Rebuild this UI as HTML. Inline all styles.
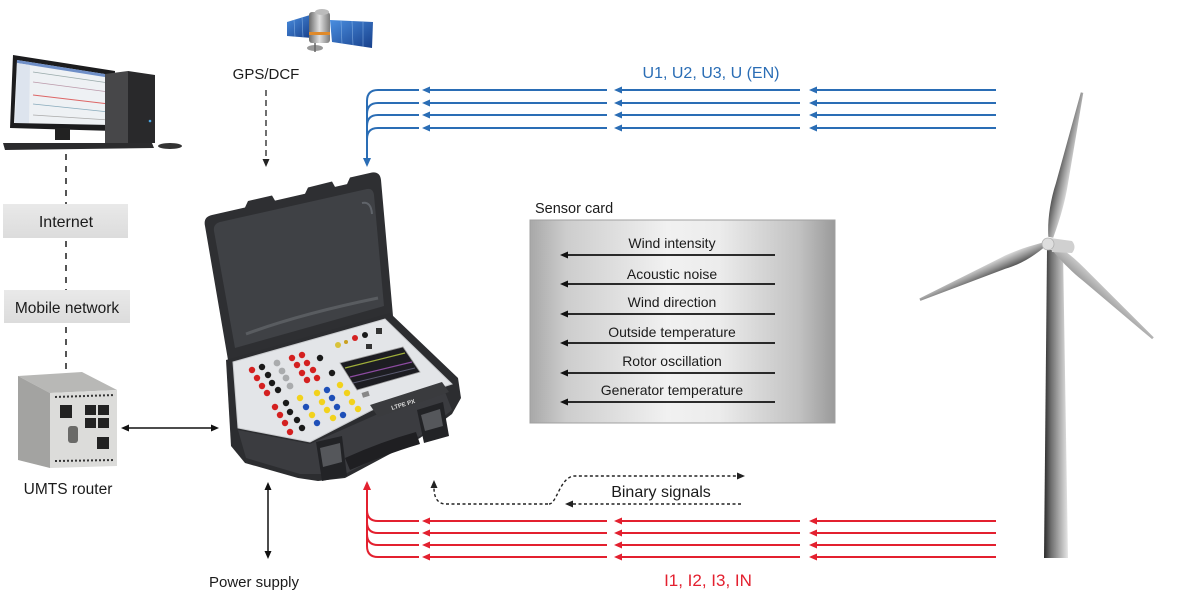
<!DOCTYPE html>
<html><head><meta charset="utf-8">
<style>
html,body{margin:0;padding:0;background:#fff;}
svg{display:block;}
text{font-family:"Liberation Sans",Arial,sans-serif;fill:#1b1b1b;}
</style></head><body>
<svg width="1200" height="594" viewBox="0 0 1200 594" xmlns="http://www.w3.org/2000/svg">
<defs>
 <linearGradient id="card" x1="0" y1="0" x2="1" y2="0">
  <stop offset="0" stop-color="#a8a8a8"/>
  <stop offset="0.12" stop-color="#cdcdcd"/>
  <stop offset="0.45" stop-color="#f1f1f1"/>
  <stop offset="0.62" stop-color="#ececec"/>
  <stop offset="0.88" stop-color="#c2c2c2"/>
  <stop offset="1" stop-color="#9a9a9a"/>
 </linearGradient>
 <linearGradient id="tower" x1="0" y1="0" x2="1" y2="0">
  <stop offset="0" stop-color="#2a2a2a"/>
  <stop offset="0.3" stop-color="#707070"/>
  <stop offset="0.7" stop-color="#b4b4b4"/>
  <stop offset="1" stop-color="#e6e6e6"/>
 </linearGradient>
 <linearGradient id="blade" x1="0" y1="0" x2="1" y2="0">
  <stop offset="0" stop-color="#555"/>
  <stop offset="0.5" stop-color="#9a9a9a"/>
  <stop offset="1" stop-color="#d8d8d8"/>
 </linearGradient>
 <linearGradient id="bladeR" x1="0" y1="0" x2="1" y2="0">
  <stop offset="0" stop-color="#c8c8c8"/>
  <stop offset="1" stop-color="#a0a0a0"/>
 </linearGradient>
 <linearGradient id="solar" x1="0" y1="0" x2="1" y2="1">
  <stop offset="0" stop-color="#4a8ee0"/>
  <stop offset="1" stop-color="#173f8a"/>
 </linearGradient>
 <linearGradient id="sbody" x1="0" y1="0" x2="1" y2="0">
  <stop offset="0" stop-color="#6a6a6a"/>
  <stop offset="0.5" stop-color="#e0e0e0"/>
  <stop offset="1" stop-color="#7a7a7a"/>
 </linearGradient>
 <linearGradient id="gbox" x1="0" y1="0" x2="0" y2="1">
  <stop offset="0" stop-color="#e9e9e9"/>
  <stop offset="1" stop-color="#dcdcdc"/>
 </linearGradient>
</defs>

<!-- ===== Computer ===== -->
<polygon points="13,55 115,71 114,131 10,128" fill="#1c1c1e"/>
<polygon points="17,60 111,75 110,125 14,123" fill="#eef1f4"/>
<polygon points="17,60 111,75 111,78 17,63" fill="#6f8fc8"/>
<polygon points="17,63 30,65 29,123 15,123" fill="#dde4ee"/>
<line x1="33" y1="72" x2="109" y2="83" stroke="#9aa" stroke-width="0.8"/>
<line x1="33" y1="82" x2="109" y2="92" stroke="#b9a" stroke-width="0.8"/>
<line x1="33" y1="95" x2="109" y2="104" stroke="#d66" stroke-width="1"/>
<line x1="33" y1="104" x2="109" y2="112" stroke="#8ab" stroke-width="0.8"/>
<line x1="33" y1="115" x2="109" y2="120" stroke="#aaa" stroke-width="0.8"/>
<rect x="55" y="128" width="15" height="12" fill="#222"/>
<polygon points="105,74 128,71 128,143 105,143" fill="#474749"/>
<polygon points="128,71 155,75 155,143 128,143" fill="#29292b"/>
<circle cx="150" cy="121" r="1.3" fill="#4aa3e0"/>
<polygon points="3,143 152,143 154,148 5,150" fill="#2b2b2d"/>
<ellipse cx="170" cy="146" rx="12" ry="3" fill="#333"/>

<!-- dashed network line -->
<line x1="66" y1="154" x2="66" y2="204" stroke="#555" stroke-width="2" stroke-dasharray="6,6"/>
<rect x="3" y="204" width="125" height="34" fill="url(#gbox)"/>
<text x="66" y="227" font-size="16" text-anchor="middle">Internet</text>
<line x1="66" y1="241" x2="66" y2="290" stroke="#555" stroke-width="2" stroke-dasharray="6,6"/>
<rect x="4" y="290" width="126" height="33" fill="url(#gbox)"/>
<text x="67" y="313" font-size="15.5" text-anchor="middle">Mobile network</text>
<line x1="66" y1="327" x2="66" y2="372" stroke="#555" stroke-width="2" stroke-dasharray="6,6"/>

<!-- ===== Router ===== -->
<polygon points="18,376 82,372 117,390 50,393" fill="#b8b8b6"/>
<polygon points="18,376 50,393 50,468 18,460" fill="#a3a3a1"/>
<polygon points="50,393 117,390 117,466 50,468" fill="#dcdcda"/>
<g fill="#222">
 <rect x="60" y="405" width="12" height="13"/>
 <rect x="85" y="405" width="11" height="10"/>
 <rect x="98" y="405" width="11" height="10"/>
 <rect x="85" y="418" width="11" height="10"/>
 <rect x="98" y="418" width="11" height="10"/>
 <rect x="97" y="437" width="12" height="12"/>
 <rect x="68" y="426" width="10" height="17" rx="3" fill="#6a6a68"/>
</g>
<line x1="55" y1="397" x2="115" y2="395" stroke="#333" stroke-width="2" stroke-dasharray="2,2"/>
<line x1="55" y1="461" x2="115" y2="460" stroke="#333" stroke-width="2" stroke-dasharray="2,2"/>
<text x="68" y="494" font-size="15.5" text-anchor="middle">UMTS router</text>

<!-- router <-> device -->
<line x1="127" y1="428" x2="213" y2="428" stroke="#111" stroke-width="1.5"/>
<polygon points="121,428 129,424.5 129,431.5" fill="#111"/>
<polygon points="219,428 211,424.5 211,431.5" fill="#111"/>

<!-- ===== Satellite ===== -->
<polygon points="287,22 310,15 312,38 287,36" fill="url(#solar)"/>
<polygon points="330,20 373,22 372,48 332,42" fill="url(#solar)"/>
<g stroke="#9cc4f0" stroke-width="0.6" opacity="0.7">
 <line x1="294" y1="20" x2="295" y2="37"/><line x1="302" y1="17" x2="303" y2="37"/>
 <line x1="341" y1="21" x2="342" y2="44"/><line x1="352" y1="21" x2="353" y2="45"/><line x1="363" y1="22" x2="363" y2="47"/>
</g>
<rect x="309" y="12" width="21" height="31" rx="3" fill="url(#sbody)"/>
<ellipse cx="322" cy="12" rx="7" ry="3" fill="#bbb"/>
<rect x="309" y="32" width="21" height="3" fill="#e08a2a"/>
<ellipse cx="315" cy="48" rx="8" ry="3" fill="#999"/>
<line x1="315" y1="43" x2="315" y2="52" stroke="#666" stroke-width="1.5"/>

<text x="266" y="79" font-size="15" text-anchor="middle">GPS/DCF</text>
<line x1="266" y1="90" x2="266" y2="160" stroke="#222" stroke-width="1.3" stroke-dasharray="6,4"/>
<polygon points="266,167 262.5,159 269.5,159" fill="#222"/>

<!-- ===== Blue lines ===== -->
<text x="711" y="78" font-size="16" text-anchor="middle" style="fill:#2a6db5">U1, U2, U3, U (EN)</text>
<g stroke="#2a6db5" stroke-width="2" fill="none">
 <path d="M419,90 H378 Q367,90 367,101 V160"/>
 <path d="M419,103 H378 Q367,103 367,114 V160"/>
 <path d="M419,115 H378 Q367,115 367,126 V160"/>
 <path d="M419,128 H378 Q367,128 367,139 V160"/>
 <path d="M607,90 H428 M607,103 H428 M607,115 H428 M607,128 H428"/>
 <path d="M800,90 H620 M800,103 H620 M800,115 H620 M800,128 H620"/>
 <path d="M996,90 H815 M996,103 H815 M996,115 H815 M996,128 H815"/>
</g>
<g fill="#2a6db5">
 <polygon points="367,167 363,158 371,158"/>
 <polygon points="422,90 430,86.5 430,93.5"/><polygon points="422,103 430,99.5 430,106.5"/><polygon points="422,115 430,111.5 430,118.5"/><polygon points="422,128 430,124.5 430,131.5"/>
 <polygon points="614,90 622,86.5 622,93.5"/><polygon points="614,103 622,99.5 622,106.5"/><polygon points="614,115 622,111.5 622,118.5"/><polygon points="614,128 622,124.5 622,131.5"/>
 <polygon points="809,90 817,86.5 817,93.5"/><polygon points="809,103 817,99.5 817,106.5"/><polygon points="809,115 817,111.5 817,118.5"/><polygon points="809,128 817,124.5 817,131.5"/>
</g>

<!-- ===== Red lines ===== -->
<g stroke="#e3202f" stroke-width="2" fill="none">
 <path d="M419,521 H378 Q367,521 367,510 V488"/>
 <path d="M419,533 H378 Q367,533 367,522 V488"/>
 <path d="M419,545 H378 Q367,545 367,534 V488"/>
 <path d="M419,557 H378 Q367,557 367,546 V488"/>
 <path d="M607,521 H428 M607,533 H428 M607,545 H428 M607,557 H428"/>
 <path d="M800,521 H620 M800,533 H620 M800,545 H620 M800,557 H620"/>
 <path d="M996,521 H815 M996,533 H815 M996,545 H815 M996,557 H815"/>
</g>
<g fill="#e3202f">
 <polygon points="367,481 363,490 371,490"/>
 <polygon points="422,521 430,517.5 430,524.5"/><polygon points="422,533 430,529.5 430,536.5"/><polygon points="422,545 430,541.5 430,548.5"/><polygon points="422,557 430,553.5 430,560.5"/>
 <polygon points="614,521 622,517.5 622,524.5"/><polygon points="614,533 622,529.5 622,536.5"/><polygon points="614,545 622,541.5 622,548.5"/><polygon points="614,557 622,553.5 622,560.5"/>
 <polygon points="809,521 817,517.5 817,524.5"/><polygon points="809,533 817,529.5 817,536.5"/><polygon points="809,545 817,541.5 817,548.5"/><polygon points="809,557 817,553.5 817,560.5"/>
</g>
<text x="708" y="586" font-size="17" text-anchor="middle" style="fill:#e3202f">I1, I2, I3, IN</text>

<!-- ===== Binary signals ===== -->
<g stroke="#222" stroke-width="1.4" fill="none" stroke-dasharray="3,2.5">
 <path d="M549,504 C557,504 560,476 575,476 H738"/>
 <path d="M741,504 H573"/>
 <path d="M548,504 H446 C438,504 434,498 434,488"/>
</g>
<g fill="#222">
 <polygon points="745,476 737,472.5 737,479.5"/>
 <polygon points="565,504 573,500.5 573,507.5"/>
 <polygon points="434,480 430.5,488 437.5,488"/>
</g>
<text x="661" y="497" font-size="16" text-anchor="middle">Binary signals</text>

<!-- power supply -->
<line x1="268" y1="489" x2="268" y2="552" stroke="#111" stroke-width="1.5"/>
<polygon points="268,482 264.5,490 271.5,490" fill="#111"/>
<polygon points="268,559 264.5,551 271.5,551" fill="#111"/>
<text x="254" y="587" font-size="15" text-anchor="middle">Power supply</text>

<!-- ===== Sensor card ===== -->
<text x="535" y="213" font-size="14.5">Sensor card</text>
<rect x="530" y="220" width="305" height="203" fill="url(#card)" stroke="#a0a0a0" stroke-width="1"/>
<g font-size="14" text-anchor="middle">
 <text x="672" y="248">Wind intensity</text>
 <text x="672" y="279">Acoustic noise</text>
 <text x="672" y="307">Wind direction</text>
 <text x="672" y="337">Outside temperature</text>
 <text x="672" y="366">Rotor oscillation</text>
 <text x="672" y="395">Generator temperature</text>
</g>
<g stroke="#111" stroke-width="1.8">
 <line x1="567" y1="255" x2="775" y2="255"/>
 <line x1="567" y1="284" x2="775" y2="284"/>
 <line x1="567" y1="314" x2="775" y2="314"/>
 <line x1="567" y1="343" x2="775" y2="343"/>
 <line x1="567" y1="373" x2="775" y2="373"/>
 <line x1="567" y1="402" x2="775" y2="402"/>
</g>
<g fill="#111">
 <polygon points="560,255 568,251.5 568,258.5"/>
 <polygon points="560,284 568,280.5 568,287.5"/>
 <polygon points="560,314 568,310.5 568,317.5"/>
 <polygon points="560,343 568,339.5 568,346.5"/>
 <polygon points="560,373 568,369.5 568,376.5"/>
 <polygon points="560,402 568,398.5 568,405.5"/>
</g>

<!-- ===== Device (case) ===== -->
<path d="M228,360 L205,226 Q203,217 212,215 L245,207.5 L248,201 L272,195.5 L275,200.6 L305,193.8 L308,187.5 L332,181.5 L335,186.9 L347,184.1 L350,177.5 L372,172.5 Q380,171.5 381,180 L393,316 Z" fill="#2e2f32"/>
<path d="M235,348 L214,231 Q213,224 220,222 L367,189 Q373,188 374,195 L384,306 Z" fill="#3f4145"/>
<path d="M246,334 Q300,314 378,298" stroke="#595c60" stroke-width="3" fill="none"/>
<path d="M362,203 Q371,201 372,214" stroke="#60646a" stroke-width="2" fill="none"/>
<path d="M226,360 L390,313 L458,378 L461,398 L452,414 L420,438 L345,478 L318,481 L298,478 L245,463 L231,446 Z" fill="#2c2d30"/>
<path d="M238,430 L310,444 L378,414 L445,392 L452,410 L420,436 L345,474 L300,474 L246,458 Z" fill="#3b3c40"/>
<polygon points="233,362 385,319 452,384 372,410 310,442 238,428" fill="#e3e5e8" stroke="#c9cbce" stroke-width="1"/>
<polygon points="370,405 442,382 449,392 378,417" fill="#3a3b3e"/>
<text x="392" y="410" font-size="6" transform="rotate(-17 392 410)" style="fill:#ddd;font-weight:bold">LTPE PX</text>
<polygon points="340,363 403,347 420,372 357,390" fill="#1d1d22" stroke="#9a9a9a" stroke-width="0.8"/>
<line x1="345" y1="368" x2="405" y2="353" stroke="#9fae3a" stroke-width="1.3"/>
<line x1="350" y1="377" x2="412" y2="362" stroke="#8c4aa0" stroke-width="1.3"/>
<line x1="353" y1="383" x2="415" y2="368" stroke="#5a5a70" stroke-width="1"/>
<rect x="362" y="392" width="7" height="5" fill="#888" transform="rotate(-17 365 394)"/>
<g>
 <circle cx="355" cy="338" r="3" fill="#d42020"/><circle cx="365" cy="335" r="3" fill="#1a1a1a"/>
 <circle cx="338" cy="345" r="3" fill="#d8c23a"/><circle cx="346" cy="342" r="2" fill="#c9a020"/>
 <rect x="376" y="328" width="6" height="6" fill="#333"/><rect x="366" y="344" width="6" height="5" fill="#333"/>
</g>
<g fill="#d42020">
 <circle cx="252" cy="370" r="3.2"/><circle cx="257" cy="378" r="3.2"/><circle cx="262" cy="386" r="3.2"/><circle cx="267" cy="393" r="3.2"/>
 <circle cx="292" cy="358" r="3.2"/><circle cx="302" cy="355" r="3.2"/><circle cx="297" cy="365" r="3.2"/><circle cx="307" cy="363" r="3.2"/>
 <circle cx="302" cy="373" r="3.2"/><circle cx="313" cy="370" r="3.2"/><circle cx="307" cy="380" r="3.2"/><circle cx="317" cy="378" r="3.2"/>
 <circle cx="275" cy="407" r="3.2"/><circle cx="280" cy="415" r="3.2"/><circle cx="285" cy="423" r="3.2"/><circle cx="290" cy="432" r="3.2"/>
</g>
<g fill="#1a1a1a">
 <circle cx="262" cy="367" r="3.2"/><circle cx="268" cy="375" r="3.2"/><circle cx="272" cy="383" r="3.2"/><circle cx="278" cy="390" r="3.2"/>
 <circle cx="320" cy="358" r="3.2"/><circle cx="332" cy="373" r="3.2"/>
 <circle cx="286" cy="403" r="3.2"/><circle cx="290" cy="412" r="3.2"/><circle cx="297" cy="420" r="3.2"/><circle cx="302" cy="428" r="3.2"/>
</g>
<g fill="#a9abad">
 <circle cx="277" cy="363" r="3.4"/><circle cx="282" cy="371" r="3.4"/><circle cx="286" cy="378" r="3.4"/><circle cx="290" cy="386" r="3.4"/>
</g>
<g fill="#f2d21c">
 <circle cx="300" cy="398" r="3.2"/><circle cx="312" cy="415" r="3.2"/><circle cx="317" cy="393" r="3.2"/><circle cx="322" cy="402" r="3.2"/>
 <circle cx="327" cy="410" r="3.2"/><circle cx="333" cy="418" r="3.2"/><circle cx="340" cy="385" r="3.2"/><circle cx="347" cy="393" r="3.2"/>
 <circle cx="352" cy="402" r="3.2"/><circle cx="358" cy="409" r="3.2"/>
</g>
<g fill="#1e4fb8">
 <circle cx="306" cy="407" r="3.2"/><circle cx="317" cy="423" r="3.2"/><circle cx="327" cy="390" r="3.2"/><circle cx="332" cy="398" r="3.2"/>
 <circle cx="337" cy="407" r="3.2"/><circle cx="343" cy="415" r="3.2"/>
</g>
<!-- latches & handle -->
<path d="M345,458 Q380,442 416,432 L420,444 Q386,454 350,470 Z" fill="#1f1f22"/>
<polygon points="316,442 342,436 347,476 322,481" fill="#222326"/>
<polygon points="320,448 340,443 342,462 323,467" fill="#55575b"/>
<polygon points="417,410 443,402 449,436 424,443" fill="#222326"/>
<polygon points="421,415 440,409 443,426 425,431" fill="#55575b"/>

<!-- ===== Wind turbine ===== -->
<polygon points="1047,250 1063,250 1068,558 1044,558" fill="url(#tower)"/>
<g transform="translate(1049,243) rotate(12.3)">
 <path d="M-2,-6 C-6,-20 -8,-40 -6,-60 L-1,-154 L1.5,-154 L6,-60 C7,-40 5,-20 3,-6 Z" fill="url(#blade)"/>
</g>
<g transform="translate(1049,243) rotate(246.2)">
 <path d="M-2,-6 C-6,-20 -8,-35 -6,-50 L-1,-141 L1.5,-141 L6,-50 C7,-35 5,-20 3,-6 Z" fill="url(#blade)"/>
</g>
<g transform="translate(1049,243) rotate(132.4)">
 <path d="M-3,-6 C-6,-20 -6,-35 -5,-50 L-1,-141 L1.5,-141 L5,-50 C6,-35 5,-20 3,-6 Z" fill="url(#bladeR)"/>
</g>
<path d="M1050,238 L1072,241 Q1077,247 1072,253 L1052,252 Z" fill="#d0d0d0"/>
<ellipse cx="1048" cy="244" rx="6" ry="6" fill="#dedede" stroke="#b0b0b0" stroke-width="0.8"/>
</svg>
</body></html>
